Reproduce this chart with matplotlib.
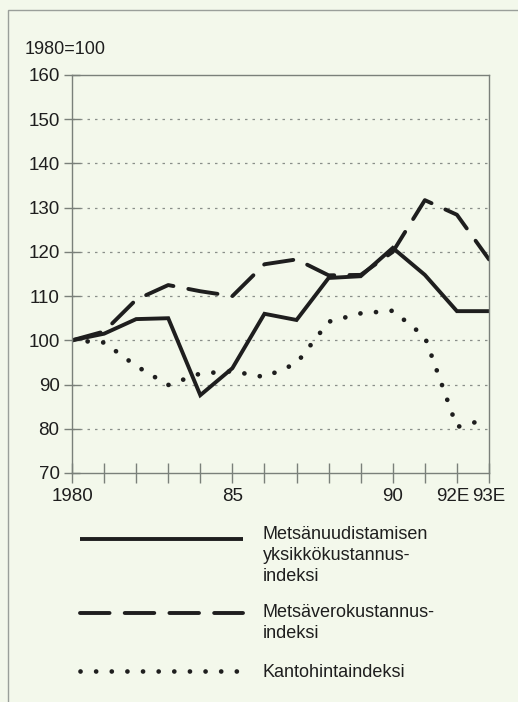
import numpy as np
import matplotlib
matplotlib.use('Agg')
import matplotlib.pyplot as plt
import matplotlib.transforms as mtransforms
from matplotlib.lines import Line2D
from matplotlib.patches import Rectangle

plt.rcParams['font.family'] = ['Liberation Sans', 'DejaVu Sans']

years = np.arange(1980, 1994)
uudistus = [100, 101.5, 104.8, 105.0, 87.6, 93.7, 106.0, 104.6, 114.1, 114.5, 120.9, 114.8, 106.6, 106.6]
vero = [100, 102.0, 109.2, 112.5, 111.1, 110.0, 117.2, 118.3, 114.7, 114.8, 120.0, 131.7, 128.4, 118.3]
kanto = [100, 99.5, 94.2, 89.9, 92.5, 93.0, 91.7, 94.8, 104.2, 106.1, 106.7, 100.8, 80.4, 82.3]

xtick_pos = [1980, 1985, 1990, 1992, 1993]
xtick_lab = ['1980', '85', '90', '92E', '93E']
legend_labels = ['Metsänuudistamisen\nyksikkökustannus-\nindeksi',
                 'Metsäverokustannus-\nindeksi',
                 'Kantohintaindeksi']

bg = '#f3f8eb'
ink = '#1e1e1e'
W, H = 518, 702

fig = plt.figure(figsize=(W / 100, H / 100), dpi=100, facecolor=bg)
ax = fig.add_axes([72 / W, 1 - 473 / H, (489 - 72) / W, (473 - 75) / H])
ax.set_facecolor(bg)

# outer frame of the scanned page
fig.patches.append(Rectangle((8 / W, -0.1), 1.2, 1 - 10 / H + 0.1,
                             transform=fig.transFigure, fill=False,
                             edgecolor='#9a9f9a', lw=1.0))

solid_style = dict(color=ink, lw=2.8, solid_capstyle='butt', solid_joinstyle='miter')
dash_style = dict(color=ink, lw=2.8, linestyle=(0, (7.6, 3.9)), dash_capstyle='round')
dot_style = dict(color=ink, lw=3.4, linestyle=(0, (0.01, 3.3)), dash_capstyle='round')

ax.plot(years, kanto, **dot_style)
ax.plot(years, vero, **dash_style)
ax.plot(years, uudistus, **solid_style)

ax.set_xlim(1980, 1993)
ax.set_ylim(70, 160)
ax.set_yticks(np.arange(70, 161, 10))
ax.set_xticks(years)
ax.set_xticklabels([xtick_lab[xtick_pos.index(y)] if y in xtick_pos else '' for y in years])

for y in range(80, 160, 10):
    ax.axhline(y, color='#8a8f8a', lw=0.9, linestyle=(0, (2, 4)), zorder=0)

for s in ax.spines.values():
    s.set_color('#7a807a')
    s.set_linewidth(1.0)

ax.tick_params(axis='both', direction='inout', length=14, width=1.0, color='#7a807a',
               labelsize=13.5, labelcolor=ink)
ax.tick_params(axis='y', length=12, pad=3)
ax.tick_params(axis='x', pad=4)

# nudge the crowded "92E" label a little to the left, as in the print
for lab in ax.get_xticklabels():
    if lab.get_text() == '92E':
        lab.set_transform(lab.get_transform() +
                          mtransforms.ScaledTranslation(-4 / 100, 0, fig.dpi_scale_trans))

fig.text(25 / W, 1 - 50 / H, '1980=100', fontsize=13, color=ink, va='center', ha='left')

# legend drawn by hand below the chart; text anchored at the baseline of its last line
styles = [solid_style, dash_style, dot_style]
line_y = [539, 613, 671]
text_base = [581, 638, 677]
for st, ly, tb, lab in zip(styles, line_y, text_base, legend_labels):
    fig.add_artist(Line2D([80 / W, 243 / W], [1 - ly / H, 1 - ly / H],
                          transform=fig.transFigure, **st))
    fig.text(263 / W, 1 - tb / H, lab, fontsize=13, color=ink, va='baseline', ha='left',
             linespacing=1.32)

fig.savefig('out.png', dpi=100, facecolor=bg)
